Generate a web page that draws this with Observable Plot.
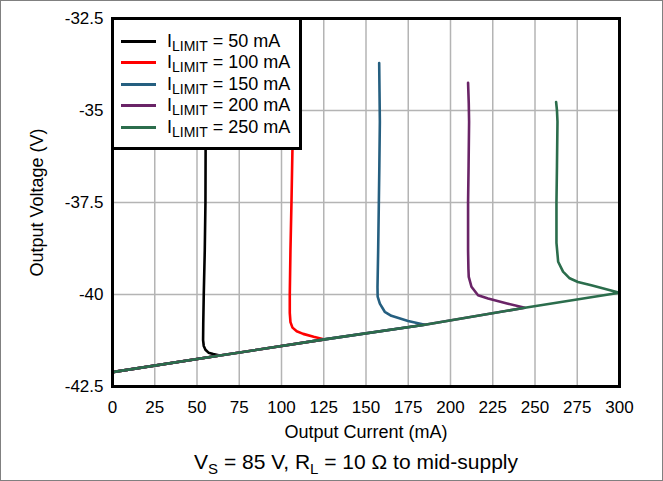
<!DOCTYPE html>
<html><head><meta charset="utf-8">
<script src="https://cdn.jsdelivr.net/npm/d3@7"></script>
<script src="https://cdn.jsdelivr.net/npm/@observablehq/plot@0.6"></script>
<style>
html,body{margin:0;padding:0;background:#fff;}
#wrap{position:relative;width:663px;height:481px;overflow:hidden;font-family:"Liberation Sans",Arial,sans-serif;color:#000;}
#chart{position:absolute;left:0;top:0;}
#border{position:absolute;left:0;top:0;width:663px;height:481px;box-sizing:border-box;border:1px solid #808080;pointer-events:none;}
#legend{position:absolute;left:111px;top:17px;width:191px;height:133px;box-sizing:border-box;border:3px solid #000;background:#fff;}
.row{position:absolute;left:0;height:20px;display:flex;align-items:center;white-space:nowrap;}
.sw{width:35px;height:3px;margin-left:7px;margin-right:11px;}
.lt{font-size:18px;line-height:20px;}
.lt .sb{font-size:14px;position:relative;top:4px;}
#caption{position:absolute;left:156px;width:400px;top:452px;text-align:center;font-size:21px;line-height:20px;white-space:nowrap;}
#caption .sb{font-size:15px;position:relative;top:5px;}
</style></head>
<body>
<div id="wrap">
  <div id="chart"></div>
  <div id="legend"></div>
  <div id="caption">V<span class="sb">S</span> = 85 V, R<span class="sb">L</span> = 10 Ω to mid-supply</div>
  <div id="border"></div>
</div>
<script>
// Series labels and colours
const seriesLimits = ["50 mA", "100 mA", "150 mA", "200 mA", "250 mA"];
const seriesColors = ["#000000", "#ff0000", "#255f80", "#6a2467", "#2b6d4c"];

// Tick values
const xTicks = [0, 25, 50, 75, 100, 125, 150, 175, 200, 225, 250, 275, 300];
const yTicks = [-42.5, -40, -37.5, -35, -32.5];

// Output current (mA) and output voltage (V) for each current limit
const i50  = [55.3, 55.1, 55.0, 54.6, 54.0, 53.7, 53.6, 54.0, 55.0, 56.8, 59.6, 63.5, 0];
const v50  = [-34.0, -36.0, -37.5, -38.8, -40.0, -40.8, -41.24, -41.4, -41.5, -41.58, -41.62, -41.66, -42.11];

const i100 = [106.6, 106.5, 105.9, 105.3, 104.9, 104.9, 105.3, 106.5, 109.0, 112.8, 119.0, 125.5, 63.5, 0];
const v100 = [-34.0, -36.0, -37.5, -38.8, -40.0, -40.5, -40.75, -40.9, -41.0, -41.07, -41.15, -41.22, -41.66, -42.11];

const i150 = [157.8, 158.0, 158.2, 157.9, 157.6, 157.2, 156.8, 156.9, 158.2, 161.1, 165.0, 174.9, 184.8, 125.5, 63.5, 0];
const v150 = [-33.71, -34.5, -35.3, -36.5, -37.5, -38.8, -39.8, -40.06, -40.25, -40.47, -40.58, -40.72, -40.82, -41.22, -41.66, -42.11];

const i200 = [210.4, 210.8, 211.0, 210.7, 210.4, 210.4, 210.6, 210.8, 212.4, 216.3, 222.2, 234.0, 244.0, 184.8, 125.5, 63.5, 0];
const v200 = [-34.25, -34.8, -35.3, -36.5, -37.5, -38.8, -39.3, -39.52, -39.79, -40.02, -40.11, -40.25, -40.36, -40.82, -41.22, -41.66, -42.11];

const i250 = [262.5, 263.0, 263.3, 263.0, 262.7, 262.7, 263.7, 266.6, 270.5, 275.4, 283.3, 300, 244, 184.8, 125.5, 63.5, 0];
const v250 = [-34.77, -35.0, -35.3, -36.5, -37.5, -38.6, -39.11, -39.38, -39.56, -39.66, -39.75, -39.95, -40.36, -40.82, -41.22, -41.66, -42.11];

const currents = [i50, i100, i150, i200, i250];
const voltages = [v50, v100, v150, v200, v250];

const rows = [];
seriesLimits.forEach((s, k) => {
  currents[k].forEach((c, j) => rows.push({s, I: c, V: voltages[k][j]}));
});

const chart = Plot.plot({
  width: 663,
  height: 448,
  marginLeft: 112,
  marginRight: 44,
  marginTop: 18,
  marginBottom: 62,
  style: {fontFamily: "'Liberation Sans', Arial, sans-serif", fontSize: "17px", color: "#000", background: "transparent"},
  x: {domain: [0, 300], ticks: xTicks, tickSize: 0, tickPadding: 14, label: null, tickFormat: d => String(d)},
  y: {domain: [-42.5, -32.5], ticks: yTicks, tickSize: 0, tickPadding: 9, label: null, tickFormat: d => String(d)},
  color: {domain: seriesLimits, range: seriesColors},
  marks: [
    Plot.gridX(xTicks, {stroke: "#b4b4b4", strokeOpacity: 1, strokeWidth: 1.5}),
    Plot.gridY(yTicks, {stroke: "#b4b4b4", strokeOpacity: 1, strokeWidth: 1.5}),
    Plot.line(rows, {x: "I", y: "V", z: "s", stroke: "s", strokeWidth: 2.6, strokeLinejoin: "round"}),
    Plot.frame({stroke: "#000", strokeWidth: 3}),
    Plot.text(["Output Current (mA)"], {frameAnchor: "bottom", lineAnchor: "middle", textAnchor: "middle", dy: 46, fontSize: 18}),
    Plot.text(["Output Voltage (V)"], {frameAnchor: "left", lineAnchor: "middle", textAnchor: "middle", dx: -75, rotate: -90, fontSize: 18})
  ]
});
document.getElementById("chart").appendChild(chart);

// Legend
const legend = document.getElementById("legend");
seriesLimits.forEach((s, k) => {
  const row = document.createElement("div");
  row.className = "row";
  row.style.top = (11 + k * 21.5) + "px";
  row.innerHTML = `<div class="sw" style="background:${seriesColors[k]}"></div><div class="lt">I<span class="sb">LIMIT</span> = ${s}</div>`;
  legend.appendChild(row);
});
</script>
</body></html>
